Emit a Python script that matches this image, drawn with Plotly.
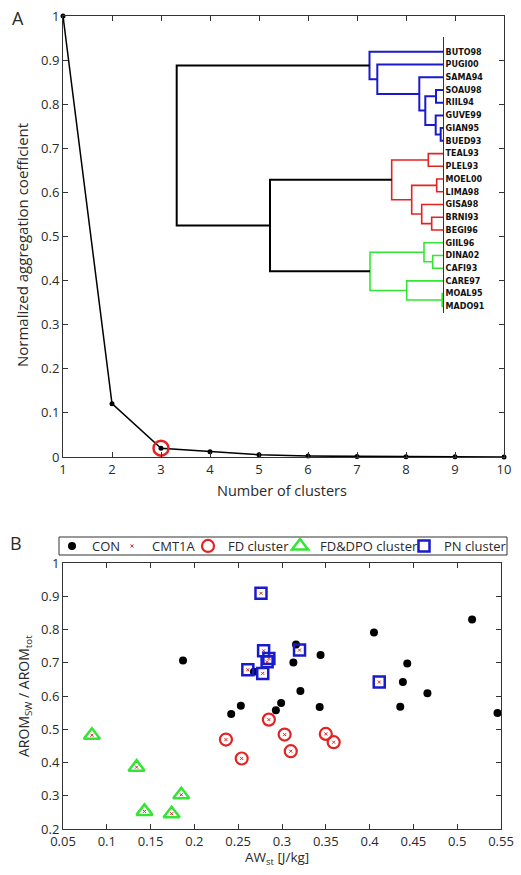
import plotly.graph_objects as go

W, H = 521, 875

# ---------------- Panel A data ----------------
n_clusters = [1, 2, 3, 4, 5, 6, 7, 8, 9, 10]
agg_coef = [1.0, 0.121, 0.020, 0.012, 0.005, 0.002, 0.001, 0.0005, 0.0003, 0.0]
highlight_k = 3

# Dendrogram (leaf order top -> bottom)
leaf_labels = ["BUTO98", "PUGI00", "SAMA94", "SOAU98", "RIIL94", "GUVE99", "GIAN95",
               "BUED93", "TEAL93", "PLEL93", "MOEL00", "LIMA98", "GISA98", "BRNI93",
               "BEGI96", "GIIL96", "DINA02", "CAFI93", "CARE97", "MOAL95", "MADO91"]
# linkage rows: child a, child b, merge distance (new node ids start at len(leaf_labels))
link_a = [19, 6, 10, 3, 5, 16, 13, 8, 24, 15, 12, 2, 23, 18, 28, 1, 30, 0, 35, 38]
link_b = [20, 7, 11, 4, 22, 17, 14, 9, 25, 26, 27, 29, 31, 21, 33, 32, 34, 36, 37, 39]
link_h = [0.8, 2.3, 6.3, 7.0, 7.3, 10.3, 11.3, 14.7, 17.7, 19.0, 21.3, 23.7, 31.3,
          36.3, 51.3, 65.7, 73.0, 73.5, 173.0, 266.3]
cluster_roots = [38, 35, 37]
cluster_colors = ["#1a1acd", "#e32222", "#33e633"]

# ---------------- Panel B data ----------------
con_x = [0.187, 0.242, 0.253, 0.268, 0.293, 0.299, 0.316, 0.313, 0.321, 0.344, 0.343,
         0.405, 0.443, 0.438, 0.435, 0.466, 0.517, 0.546]
con_y = [0.707, 0.546, 0.571, 0.673, 0.557, 0.579, 0.755, 0.701, 0.615, 0.723, 0.567,
         0.791, 0.698, 0.642, 0.568, 0.608, 0.830, 0.549]
fd_x = [0.236, 0.254, 0.285, 0.303, 0.310, 0.350, 0.359]
fd_y = [0.469, 0.412, 0.529, 0.484, 0.434, 0.486, 0.461]
fddpo_x = [0.083, 0.134, 0.185, 0.143, 0.174]
fddpo_y = [0.482, 0.386, 0.303, 0.253, 0.246]
pn_x = [0.276, 0.279, 0.285, 0.283, 0.261, 0.278, 0.320, 0.411]
pn_y = [0.909, 0.736, 0.713, 0.703, 0.679, 0.668, 0.738, 0.642]

FONT = "Open Sans"
TXT = "#2a2a2a"
RED, GREEN, BLUE = "#e32222", "#33e633", "#1a1acd"


def px_x(p):
    return p / W


def px_y(p):
    return 1 - p / H


fig = go.Figure()

# ---- Panel A curve ----
fig.add_trace(go.Scatter(x=n_clusters, y=agg_coef, mode="lines+markers",
                         line=dict(color="black", width=1.5),
                         marker=dict(color="black", size=5),
                         cliponaxis=False, showlegend=False, xaxis="x", yaxis="y"))
hi = n_clusters.index(highlight_k)
fig.add_trace(go.Scatter(x=[n_clusters[hi]], y=[agg_coef[hi]], mode="markers",
                         marker=dict(symbol="circle-open", size=15, color=RED,
                                     line=dict(color=RED, width=2.5)),
                         cliponaxis=False, showlegend=False, xaxis="x", yaxis="y"))

# ---- Dendrogram ----
n = len(leaf_labels)
pos = {i: float(i) for i in range(n)}
hgt = {i: 0.0 for i in range(n)}
children = {}
for k, (a, b, h) in enumerate(zip(link_a, link_b, link_h)):
    node = n + k
    children[node] = (a, b)
    pos[node] = (pos[a] + pos[b]) / 2
    hgt[node] = h

color_of = {}


def paint(node, c):
    color_of[node] = c
    for ch in children.get(node, ()):
        paint(ch, c)


for node, c in zip(cluster_roots, cluster_colors):
    paint(node, c)

segs = {}
for node, (a, b) in children.items():
    c = color_of.get(node, "black")
    xs, ys = segs.setdefault(c, ([], []))
    xs += [hgt[a], hgt[node], hgt[node], hgt[b], None]
    ys += [pos[a], pos[a], pos[b], pos[b], None]
for c, (xs, ys) in segs.items():
    fig.add_trace(go.Scatter(x=xs, y=ys, mode="lines",
                             line=dict(color=c, width=2 if c in ("black", BLUE) else 1.6),
                             showlegend=False, hoverinfo="skip", xaxis="x3", yaxis="y3"))

# ---- Panel B ----
cmt_x = fd_x + fddpo_x + pn_x
cmt_y = fd_y + fddpo_y + pn_y
fig.add_trace(go.Scatter(x=con_x, y=con_y, mode="markers", name="CON", legend="legend",
                         marker=dict(color="black", size=8),
                         cliponaxis=False, xaxis="x2", yaxis="y2"))
fig.add_trace(go.Scatter(x=cmt_x, y=cmt_y, mode="markers", name="CMT1A", legend="legend2",
                         marker=dict(symbol="x-thin", size=3, color=RED,
                                     line=dict(color=RED, width=1)),
                         cliponaxis=False, xaxis="x2", yaxis="y2"))
fig.add_trace(go.Scatter(x=fd_x, y=fd_y, mode="markers", name="FD cluster", legend="legend3",
                         marker=dict(symbol="circle-open", size=12, color=RED,
                                     line=dict(color=RED, width=2.2)),
                         cliponaxis=False, xaxis="x2", yaxis="y2"))
fig.add_trace(go.Scatter(x=fddpo_x, y=fddpo_y, mode="markers", name="FD&DPO cluster",
                         legend="legend4",
                         marker=dict(symbol="triangle-up-open", size=14, color=GREEN,
                                     line=dict(color=GREEN, width=2.5)),
                         cliponaxis=False, xaxis="x2", yaxis="y2"))
fig.add_trace(go.Scatter(x=pn_x, y=pn_y, mode="markers", name="PN cluster", legend="legend5",
                         marker=dict(symbol="square-open", size=11, color=BLUE,
                                     line=dict(color=BLUE, width=2.5)),
                         cliponaxis=False, xaxis="x2", yaxis="y2"))

axis_common = dict(showline=True, linecolor="#333", linewidth=1, mirror="ticks",
                   ticks="inside", ticklen=5, tickcolor="#333", showgrid=False,
                   zeroline=False, automargin=False,
                   tickfont=dict(family=FONT, size=13, color=TXT))

# legend entries, laid out like the reference's one-row boxed legend (text start, px)
legend_text_px = [92, 152, 228, 320, 444]
legends = {}
for i, tx in enumerate(legend_text_px):
    key = "legend" if i == 0 else f"legend{i + 1}"
    legends[key] = dict(orientation="h", x=px_x(tx - 40), xanchor="left",
                        y=px_y(546), yanchor="middle",
                        bgcolor="rgba(0,0,0,0)", borderwidth=0,
                        font=dict(family=FONT, size=13, color=TXT))

fig.update_layout(
    width=W, height=H,
    margin=dict(l=0, r=0, t=0, b=0),
    paper_bgcolor="white", plot_bgcolor="rgba(0,0,0,0)",
    font=dict(family=FONT, color=TXT),
    xaxis=dict(domain=[px_x(63), px_x(504)], range=[1, 10], dtick=1, anchor="y", **axis_common),
    yaxis=dict(domain=[px_y(457), px_y(16)], range=[0, 1], dtick=0.1, anchor="x", **axis_common),
    xaxis2=dict(domain=[px_x(63), px_x(501)], range=[0.05, 0.55], dtick=0.05, anchor="y2", **axis_common),
    yaxis2=dict(domain=[px_y(829), px_y(563)], range=[0.2, 1], dtick=0.1, anchor="x2", **axis_common),
    xaxis3=dict(domain=[px_x(63), px_x(443)], range=[380, 0], visible=False, anchor="y3"),
    yaxis3=dict(domain=[px_y(313), px_y(36.7)], range=[20.52, -1.18], anchor="x3", side="right",
                showline=True, linecolor="#333", linewidth=1, ticks="", showgrid=False,
                zeroline=False, automargin=False,
                tickvals=list(range(n)), ticktext=leaf_labels,
                tickfont=dict(family="DejaVu Sans", size=8, color="#111", weight="bold")),
    showlegend=True,
    **legends,
)

# legend frame
fig.add_shape(type="rect", xref="paper", yref="paper",
              x0=px_x(59), x1=px_x(507), y0=px_y(555), y1=px_y(537),
              line=dict(color="#333", width=1), fillcolor="rgba(0,0,0,0)")

ann = [
    dict(text="A", x=px_x(18), y=px_y(18), size=18),
    dict(text="B", x=px_x(16), y=px_y(543), size=18),
    dict(text="Normalized aggregation coefficient", x=px_x(22), y=px_y(245), size=15, angle=-90),
    dict(text="Number of clusters", x=px_x(282), y=px_y(490), size=14.5),
    dict(text="AROM<sub>SW</sub> / AROM<sub>tot</sub>", x=px_x(24), y=px_y(696), size=14, angle=-90),
    dict(text="AW<sub>st</sub> [J/kg]", x=px_x(277), y=px_y(858), size=13.5),
]
for a in ann:
    fig.add_annotation(text=a["text"], x=a["x"], y=a["y"], xref="paper", yref="paper",
                       showarrow=False, xanchor="center", yanchor="middle",
                       textangle=a.get("angle", 0),
                       font=dict(family=FONT, size=a["size"], color=TXT))

fig.write_html("out.html", config={"displayModeBar": False},
               post_script="document.body.style.margin='0';document.body.style.overflow='hidden';")
